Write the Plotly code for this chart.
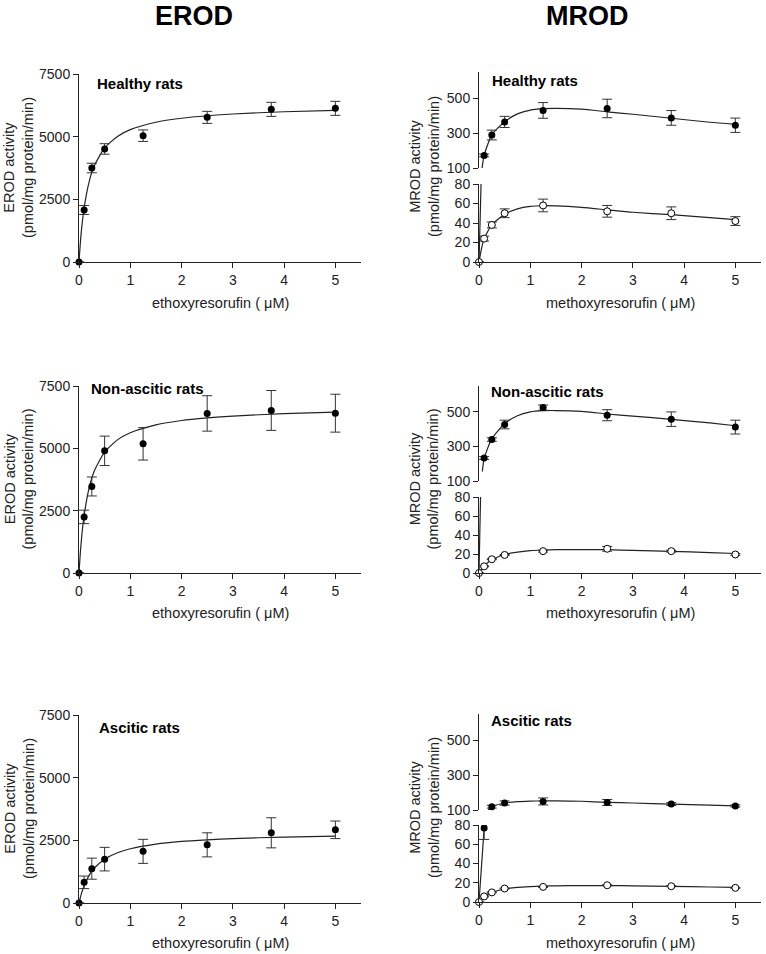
import plotly.graph_objects as go

# ---------------- data ----------------
substrate = [0, 0.1, 0.25, 0.5, 1.25, 2.5, 3.75, 5]
conditions = ["Healthy rats", "Non-ascitic rats", "Ascitic rats"]

# EROD (pmol/mg protein/min)
erod_healthy = [0, 2075, 3750, 4510, 5040, 5770, 6090, 6130]
erod_healthy_err = [0, 180, 190, 210, 230, 240, 280, 280]
erod_nonascitic = [0, 2250, 3470, 4900, 5180, 6400, 6520, 6410]
erod_nonascitic_err = [0, 270, 380, 590, 650, 710, 800, 760]
erod_ascitic = [0, 825, 1370, 1750, 2060, 2320, 2800, 2920]
erod_ascitic_err = [0, 250, 420, 470, 480, 480, 600, 350]

# EROD fitted curves
erod_curve_x = [0, 0.025, 0.05, 0.1, 0.2, 0.3, 0.5, 0.75, 1.0, 1.5, 2.0, 2.5, 3.0, 4.0, 5.0]
erod_curve_healthy = [0, 730, 1310, 2165, 3220, 3845, 4550, 5010, 5280, 5575, 5735, 5835, 5905, 5995, 6050]
erod_curve_nonascitic = [0, 780, 1395, 2310, 3435, 4100, 4850, 5340, 5625, 5940, 6115, 6220, 6295, 6390, 6450]
erod_curve_ascitic = [0, 210, 395, 690, 1110, 1395, 1750, 2005, 2165, 2350, 2455, 2520, 2570, 2630, 2670]

# MROD (pmol/mg protein/min): filled = upper series, open = lower series
mrod_x_filled = [0.1, 0.25, 0.5, 1.25, 2.5, 3.75, 5]
mrod_healthy_filled = [172, 289, 364, 430, 441, 387, 345]
mrod_healthy_filled_err = [8, 28, 32, 45, 53, 42, 41]
mrod_nonascitic_filled = [233, 340, 427, 525, 481, 458, 412]
mrod_nonascitic_filled_err = [8, 10, 25, 15, 32, 42, 40]
mrod_ascitic_filled = [77, 119, 140, 149, 143, 134, 123]
mrod_ascitic_filled_err = [12, 8, 12, 20, 17, 8, 6]

mrod_healthy_open = [0, 24, 38, 50, 58, 52, 50, 42]
mrod_healthy_open_err = [0, 2.5, 3, 4.5, 6.5, 6, 6.5, 4.5]
mrod_nonascitic_open = [0, 7, 14.5, 19, 23, 25.5, 23, 19.5]
mrod_nonascitic_open_err = [0, 0.5, 0.5, 0.5, 1, 2.5, 1, 1]
mrod_ascitic_open = [0, 5.8, 10, 14, 15.7, 17.4, 16.4, 14.7]
mrod_ascitic_open_err = [0, 0.5, 0.5, 0.5, 0.5, 0.5, 0.5, 0.5]

# MROD fitted curves
mrod_upper_curve_x = {
    "Healthy rats": [0.06, 0.1, 0.25, 0.5, 0.75, 1.0, 1.25, 1.5, 2.0, 2.5, 3.0, 3.75, 4.5, 5.0],
    "Non-ascitic rats": [0.065, 0.1, 0.25, 0.5, 0.75, 1.0, 1.25, 1.5, 2.0, 2.5, 3.0, 3.75, 4.5, 5.0],
    "Ascitic rats": [0.18, 0.25, 0.5, 0.75, 1.0, 1.25, 1.5, 2.0, 2.5, 3.0, 3.75, 4.5, 5.0],
}
mrod_upper_curve_y = {
    "Healthy rats": [100, 172, 290, 365, 410, 432, 440, 442, 437, 422, 408, 385, 362, 350],
    "Non-ascitic rats": [155, 230, 345, 432, 478, 500, 507, 508, 503, 488, 476, 457, 436, 420],
    "Ascitic rats": [100, 118, 140, 148, 151, 152, 152, 150, 144, 140, 134, 128, 124],
}
mrod_lower_filled_curve_x = {
    "Healthy rats": [0, 0.04], "Non-ascitic rats": [0, 0.03], "Ascitic rats": [0, 0.105]}
mrod_lower_filled_curve_y = {
    "Healthy rats": [0, 80], "Non-ascitic rats": [0, 80], "Ascitic rats": [0, 80]}
mrod_open_curve_x = [0, 0.05, 0.1, 0.25, 0.5, 0.75, 1.0, 1.25, 1.5, 2.0, 2.5, 3.0, 3.75, 4.5, 5.0]
mrod_open_curve = {
    "Healthy rats": [0, 14, 24, 38, 49, 54.5, 57, 57.7, 57.5, 56, 53.5, 51, 48.5, 45.5, 43.5],
    "Non-ascitic rats": [0, 4, 7.5, 14, 19.5, 22, 23.5, 24.2, 24.5, 24.7, 24.5, 23.8, 22.8, 21.5, 20.5],
    "Ascitic rats": [0, 3, 5.8, 10, 13.5, 15.2, 16, 16.5, 16.8, 17, 17, 16.8, 16.3, 15.6, 15.2],
}

erod_vals = [erod_healthy, erod_nonascitic, erod_ascitic]
erod_errs = [erod_healthy_err, erod_nonascitic_err, erod_ascitic_err]
erod_curves = [erod_curve_healthy, erod_curve_nonascitic, erod_curve_ascitic]
mrod_filled = [mrod_healthy_filled, mrod_nonascitic_filled, mrod_ascitic_filled]
mrod_filled_err = [mrod_healthy_filled_err, mrod_nonascitic_filled_err, mrod_ascitic_filled_err]
mrod_open = [mrod_healthy_open, mrod_nonascitic_open, mrod_ascitic_open]
mrod_open_err = [mrod_healthy_open_err, mrod_nonascitic_open_err, mrod_ascitic_open_err]

# ---------------- layout geometry (pixels) ----------------
W, H = 766, 954
FONT = "Liberation Sans, Arial, sans-serif"


def px_x(p):
    return p / W


def px_y(p):
    return 1 - p / H


erod_xdom = [79, 361]
mrod_xdom = [479, 761]
erod_ydom = [(262, 74), (573, 386), (903, 715)]
mrod_lower_ydom = [(262, 184), (573, 497), (902, 825)]
mrod_upper_ydom = [(168, 72), (481, 386), (810, 714)]
erod_label_pos = [(95, 84), (89, 388), (97, 727)]
mrod_label_pos = [(490, 80), (489, 391), (489, 720)]
xtitle_y = [303, 613, 943]

fig = go.Figure()
layout = dict(
    template="none",
    width=W, height=H, autosize=False,
    margin=dict(l=0, r=0, t=0, b=0, pad=0, autoexpand=False),
    paper_bgcolor="white", plot_bgcolor="white",
    showlegend=False,
    font=dict(family=FONT, size=14, color="#222"),
)

axis_common = dict(
    showgrid=False, zeroline=False, showline=True, linecolor="#222", linewidth=1,
    ticks="outside", ticklen=5, tickwidth=1, tickcolor="#222", automargin=False,
    tickfont=dict(family=FONT, size=14, color="#222"),
)

err_style = dict(type="data", visible=True, thickness=1, width=5, color="#333")
curve_line = dict(color="#222", width=1.2, shape="spline", smoothing=0.6)
annotations = []
TITLE_SIZE = 14.5

for r in range(3):
    ie = 3 * r + 1
    il = 3 * r + 2
    iu = 3 * r + 3
    # ---------- EROD ----------
    layout[f"xaxis{ie}"] = dict(axis_common, domain=[px_x(erod_xdom[0]), px_x(erod_xdom[1])],
                                range=[0, 5.5], tickvals=[0, 1, 2, 3, 4, 5],
                                anchor=f"y{ie}")
    layout[f"yaxis{ie}"] = dict(axis_common, domain=[px_y(erod_ydom[r][0]), px_y(erod_ydom[r][1])],
                                range=[0, 7500], tickvals=[0, 2500, 5000, 7500],
                                anchor=f"x{ie}")
    fig.add_trace(go.Scatter(x=erod_curve_x, y=erod_curves[r], mode="lines", line=curve_line,
                             xaxis=f"x{ie}", yaxis=f"y{ie}", cliponaxis=False, hoverinfo="skip"))
    fig.add_trace(go.Scatter(x=substrate, y=erod_vals[r], mode="markers",
                             marker=dict(color="black", size=7),
                             error_y=dict(err_style, array=erod_errs[r]),
                             xaxis=f"x{ie}", yaxis=f"y{ie}", cliponaxis=False))

    # ---------- MROD lower ----------
    layout[f"xaxis{il}"] = dict(axis_common, domain=[px_x(mrod_xdom[0]), px_x(mrod_xdom[1])],
                                range=[0, 5.5], tickvals=[0, 1, 2, 3, 4, 5],
                                anchor=f"y{il}")
    layout[f"yaxis{il}"] = dict(axis_common, domain=[px_y(mrod_lower_ydom[r][0]), px_y(mrod_lower_ydom[r][1])],
                                range=[0, 80], tickvals=[0, 20, 40, 60, 80],
                                anchor=f"x{il}")
    # ---------- MROD upper ----------
    layout[f"xaxis{iu}"] = dict(domain=[px_x(mrod_xdom[0]), px_x(mrod_xdom[1])],
                                range=[0, 5.5], visible=False, anchor=f"y{iu}", automargin=False)
    layout[f"yaxis{iu}"] = dict(axis_common, domain=[px_y(mrod_upper_ydom[r][0]), px_y(mrod_upper_ydom[r][1])],
                                range=[100, 650], tickvals=[100, 300, 500],
                                anchor=f"x{iu}")

    name = conditions[r]
    # filled-series curve, lower part
    fig.add_trace(go.Scatter(x=mrod_lower_filled_curve_x[name], y=mrod_lower_filled_curve_y[name],
                             mode="lines", line=dict(color="#222", width=1.2),
                             xaxis=f"x{il}", yaxis=f"y{il}", cliponaxis=False, hoverinfo="skip"))
    # open-series curve
    fig.add_trace(go.Scatter(x=mrod_open_curve_x, y=mrod_open_curve[name], mode="lines", line=curve_line,
                             xaxis=f"x{il}", yaxis=f"y{il}", cliponaxis=False, hoverinfo="skip"))
    # filled-series curve, upper part
    fig.add_trace(go.Scatter(x=mrod_upper_curve_x[name], y=mrod_upper_curve_y[name], mode="lines",
                             line=curve_line, xaxis=f"x{iu}", yaxis=f"y{iu}", cliponaxis=False,
                             hoverinfo="skip"))
    # open points
    fig.add_trace(go.Scatter(x=substrate, y=mrod_open[r], mode="markers",
                             marker=dict(color="white", size=7, line=dict(color="black", width=1)),
                             error_y=dict(err_style, array=mrod_open_err[r]),
                             xaxis=f"x{il}", yaxis=f"y{il}", cliponaxis=False))
    # filled points split between upper and lower panels
    fx_hi = [x for x, v in zip(mrod_x_filled, mrod_filled[r]) if v >= 100]
    fy_hi = [v for v in mrod_filled[r] if v >= 100]
    fe_hi = [e for e, v in zip(mrod_filled_err[r], mrod_filled[r]) if v >= 100]
    fx_lo = [x for x, v in zip(mrod_x_filled, mrod_filled[r]) if v < 100]
    fy_lo = [v for v in mrod_filled[r] if v < 100]
    fe_lo = [e for e, v in zip(mrod_filled_err[r], mrod_filled[r]) if v < 100]
    fig.add_trace(go.Scatter(x=fx_hi, y=fy_hi, mode="markers", marker=dict(color="black", size=7),
                             error_y=dict(err_style, array=fe_hi),
                             xaxis=f"x{iu}", yaxis=f"y{iu}", cliponaxis=False))
    if fx_lo:
        fig.add_trace(go.Scatter(x=fx_lo, y=fy_lo, mode="markers", marker=dict(color="black", size=7),
                                 error_y=dict(err_style, array=fe_lo),
                                 xaxis=f"x{il}", yaxis=f"y{il}", cliponaxis=True))

    # ---------- text ----------
    for (lx, ly) in [erod_label_pos[r], mrod_label_pos[r]]:
        annotations.append(dict(text=f"<b>{name}</b>", x=px_x(lx), y=px_y(ly), xref="paper", yref="paper",
                                xanchor="left", yanchor="middle", showarrow=False,
                                font=dict(family=FONT, size=15, color="black")))
    ey = (erod_ydom[r][0] + erod_ydom[r][1]) / 2
    my = (mrod_lower_ydom[r][0] + mrod_upper_ydom[r][1]) / 2
    annotations.append(dict(text="EROD activity<br>(pmol/mg protein/min)", x=px_x(19), y=px_y(ey),
                            xref="paper", yref="paper", textangle=-90, showarrow=False,
                            xanchor="center", yanchor="middle",
                            font=dict(family=FONT, size=TITLE_SIZE, color="#222")))
    annotations.append(dict(text="MROD activity<br>(pmol/mg protein/min)", x=px_x(424), y=px_y(my),
                            xref="paper", yref="paper", textangle=-90, showarrow=False,
                            xanchor="center", yanchor="middle",
                            font=dict(family=FONT, size=TITLE_SIZE, color="#222")))
    annotations.append(dict(text="ethoxyresorufin ( \u03bcM)", x=px_x(220), y=px_y(xtitle_y[r]),
                            xref="paper", yref="paper", showarrow=False, xanchor="center", yanchor="middle",
                            font=dict(family=FONT, size=TITLE_SIZE, color="#222")))
    annotations.append(dict(text="methoxyresorufin ( \u03bcM)", x=px_x(620), y=px_y(xtitle_y[r]),
                            xref="paper", yref="paper", showarrow=False, xanchor="center", yanchor="middle",
                            font=dict(family=FONT, size=TITLE_SIZE, color="#222")))

annotations.append(dict(text="<b>EROD</b>", x=px_x(194), y=px_y(16), xref="paper", yref="paper",
                        showarrow=False, xanchor="center", yanchor="middle",
                        font=dict(family=FONT, size=27, color="black")))
annotations.append(dict(text="<b>MROD</b>", x=px_x(587), y=px_y(16), xref="paper", yref="paper",
                        showarrow=False, xanchor="center", yanchor="middle",
                        font=dict(family=FONT, size=27, color="black")))

layout["annotations"] = annotations
fig.update_layout(**layout)
# remove the browser's default 8px body margin so the figure sits at the page origin
fig.write_html("out.html", config={"displayModeBar": False},
               post_script="document.body.style.margin='0';document.body.style.overflow='hidden';")
